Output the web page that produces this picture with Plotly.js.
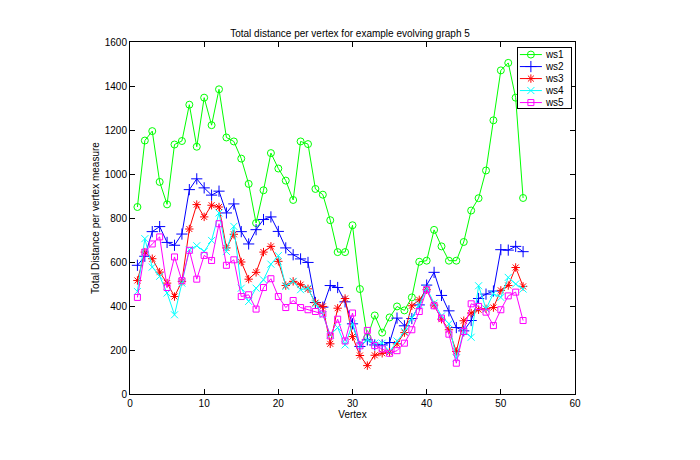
<!DOCTYPE html>
<html>
<head>
<meta charset="utf-8">
<script src="https://cdn.plot.ly/plotly-3.0.1.min.js"></script>
<style>html,body{margin:0;padding:0;background:#fff;}#chart{width:700px;height:460px;}</style>
</head>
<body>
<div id="chart"></div>
<script>
var vertices = [];
for (var i = 1; i <= 53; i++) vertices.push(i);

var ws1 = [850,1152,1195,964,862,1134,1150,1315,1124,1347,1222,1385,1166,1148,1070,955,777,926,1095,1025,
  970,882,1148,1136,932,906,790,645,645,767,477,258,357,279,348,398,380,439,601,606,
  746,671,606,606,691,834,890,1016,1244,1471,1505,1347,891];
var ws2 = [585,626,738,761,689,676,727,929,978,937,904,922,823,864,738,682,747,793,805,739,
  664,633,614,598,416,395,493,484,419,319,216,246,223,223,234,345,310,343,405,495,
  553,448,378,302,287,334,434,454,468,656,654,671,647];
var ws3 = [516,645,615,554,504,443,512,750,861,805,858,850,664,726,600,522,553,645,671,603,
  493,512,497,478,415,398,228,390,434,261,175,129,176,185,190,228,279,401,428,474,
  404,340,292,193,333,368,383,387,393,471,493,575,489];
var ws4 = [466,706,577,535,459,360,504,656,674,648,698,823,648,762,481,421,481,519,590,629,
  489,512,474,481,410,360,269,302,223,319,220,246,231,231,193,241,284,345,405,481,
  413,355,319,163,284,258,492,387,456,439,530,500,477];
var ws5 = [439,645,682,714,484,623,515,653,522,630,607,774,585,610,443,451,386,484,524,443,
  393,425,393,383,375,364,264,340,241,368,219,289,220,205,185,197,231,292,375,474,
  401,345,272,140,284,410,398,372,311,383,446,463,334];

var seriesNames = ['ws1','ws2','ws3','ws4','ws5'];
var seriesData = [ws1, ws2, ws3, ws4, ws5];
var colors = ['#00ff00','#0000ff','#ff0000','#00ffff','#ff00ff'];
var symbols = ['circle-open','cross-thin-open','asterisk-open','x-thin-open','square-open'];
var sizes = [7,8,7,7,6];

var traces = seriesData.map(function(d, k){
  return {
    x: vertices, y: d, name: seriesNames[k], type: 'scatter', mode: 'lines+markers',
    line: {color: colors[k], width: 1},
    marker: {symbol: symbols[k], size: sizes[k], color: colors[k], line: {color: colors[k], width: 1}}
  };
});

var fam = 'Liberation Sans, Arial, sans-serif';
var axisFont = {family: fam, size: 10, color: '#000'};
var layout = {
  width: 700, height: 460,
  margin: {l: 130, r: 125, t: 42, b: 66},
  paper_bgcolor: '#fff', plot_bgcolor: '#fff',
  font: axisFont,
  title: {text: 'Total distance per vertex for example evolving graph 5', font: {family: fam, size: 10, color: '#000'}, x: 0.5, xanchor: 'center', y: 0.92, yanchor: 'bottom'},
  xaxis: {range: [0, 60], tickvals: [0,10,20,30,40,50,60], ticks: 'inside', ticklen: 5, tickcolor: '#000',
    showline: true, linecolor: '#000', linewidth: 1, mirror: 'allticks', showgrid: false, zeroline: false,
    tickfont: axisFont, title: {text: 'Vertex', font: axisFont, standoff: 2}},
  yaxis: {range: [0, 1600], tickvals: [0,200,400,600,800,1000,1200,1400,1600], ticks: 'inside', ticklen: 5, tickcolor: '#000',
    showline: true, linecolor: '#000', linewidth: 1, mirror: 'allticks', showgrid: false, zeroline: false,
    tickfont: axisFont, title: {text: 'Total Distance per vertex measure', font: axisFont, standoff: 3}},
  legend: {x: 0.993, xanchor: 'right', y: 0.987, yanchor: 'top', bgcolor: '#fff', bordercolor: '#000', borderwidth: 1,
    font: {family: fam, size: 10, color: '#000'}, tracegroupgap: 0, itemwidth: 30},
  showlegend: true
};

var gd = document.getElementById('chart');
Plotly.newPlot(gd, traces, layout, {displayModeBar: false, staticPlot: true}).then(function(){
  // compact the legend (MATLAB-style tight rows and short sample lines)
  var items = gd.querySelectorAll('.legend .traces');
  if (!items.length) return;
  var parse = function(el){
    var m = /translate\(\s*([-\d.]+)[ ,]+([-\d.]+)\s*\)/.exec(el.getAttribute('transform') || '');
    return m ? [parseFloat(m[1]), parseFloat(m[2])] : [0, 0];
  };
  var step = 12, top = 8, bottomPad = 5.5, leftCut = 12;
  for (var i = 0; i < items.length; i++) {
    var p = parse(items[i]);
    items[i].setAttribute('transform', 'translate(' + p[0] + ',' + (top + i * step) + ')');
    items[i].querySelectorAll('.legendlines path').forEach(function(pl){ pl.setAttribute('d', 'M14,0h22'); });
    items[i].querySelectorAll('.legendpoints path.scatterpts').forEach(function(pm){ pm.setAttribute('transform', 'translate(25,0)'); });
  }
  var bg = gd.querySelector('.legend rect.bg');
  if (bg) {
    var h = top + (items.length - 1) * step + bottomPad;
    var x0 = parseFloat(bg.getAttribute('x')) || 0;
    var w = parseFloat(bg.getAttribute('width'));
    bg.setAttribute('height', h);
    bg.style.height = h + 'px';
    bg.setAttribute('x', x0 + leftCut);
    bg.setAttribute('width', w - leftCut);
    bg.style.width = (w - leftCut) + 'px';
  }
});
</script>
</body>
</html>
